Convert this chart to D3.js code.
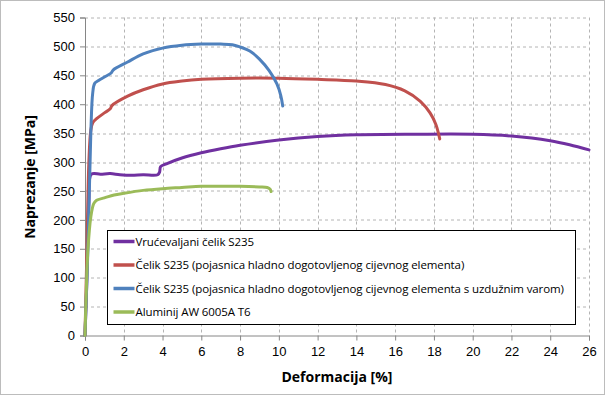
<!DOCTYPE html>
<html>
<head>
<meta charset="utf-8">
<script src="https://cdn.jsdelivr.net/npm/d3@7"></script>
<style>
  body { margin: 0; background: #fff; }
  svg { font-family: "Open Sans", "Liberation Sans", sans-serif; }
  .grid line { stroke: #b4b4b4; stroke-dasharray: 3,3; }
  .axis path, .axis line { stroke: #868686; }
  .axis text { font-size: 13px; fill: #000; }
</style>
</head>
<body>
<div id="chart"></div>
<script>
// podaci (deformacija [%], naprezanje [MPa])
const seriesNames = [
  "Vrućevaljani čelik S235",
  "Čelik S235 (pojasnica hladno dogotovljenog cijevnog elementa)",
  "Čelik S235 (pojasnica hladno dogotovljenog cijevnog elementa s uzdužnim varom)",
  "Aluminij AW 6005A T6"
];
const seriesColors = ["#7030A0", "#C0504D", "#4F81BD", "#9BBB59"];

const purpleX = [0, 0.1, 0.2, 0.33, 0.8, 1.3, 1.8, 2.4, 3.0, 3.75, 3.85, 3.9, 4.2, 5.0, 6, 7, 8, 10, 12, 14, 17, 20, 22, 24, 25, 26];
const purpleY = [0, 100, 230, 279, 279, 280, 278, 277, 278, 278, 283, 292, 297, 307, 316, 323, 329, 338, 344, 347, 348, 348, 345, 337, 330, 321];

const redX = [0, 0.1, 0.2, 0.3, 0.4, 0.6, 1.0, 1.3, 1.4, 2.2, 3, 4, 5, 6, 8, 10, 12, 14, 15.5, 16.5, 17.3, 17.8, 18.1, 18.3];
const redY = [0, 150, 300, 355, 368, 375, 385, 392, 398, 414, 425, 435, 440, 443, 445, 445, 443, 440, 434, 423, 405, 385, 365, 340];

const blueX = [0, 0.15, 0.3, 0.4, 0.5, 0.7, 1.0, 1.35, 1.45, 2.2, 3, 4, 5, 6, 7, 7.6, 8.0, 8.5, 9.0, 9.5, 9.9, 10.1, 10.2];
const blueY = [0, 150, 350, 420, 436, 441, 447, 454, 459, 473, 487, 497, 502, 504, 504, 503, 499, 492, 478, 458, 435, 415, 397];

const greenX = [0, 0.05, 0.15, 0.3, 0.45, 0.6, 1.0, 1.5, 2, 3, 4, 5, 6, 7, 8, 9, 9.4, 9.55, 9.6];
const greenY = [0, 60, 148, 205, 228, 234, 238, 243, 246, 251, 254, 256, 258, 258, 258, 257, 256, 253, 249];

const xTicks = d3.range(0, 27, 2);
const yTicks = d3.range(0, 551, 50);

const allX = [purpleX, redX, blueX, greenX];
const allY = [purpleY, redY, blueY, greenY];

const W = 605, H = 395;
const margin = { top: 17.5, right: 16, bottom: 59.5, left: 85 },
  width = W - margin.left - margin.right,
  height = H - margin.top - margin.bottom;

const root = d3.select("#chart").append("svg").attr("width", W).attr("height", H);

// okvir grafikona
root.append("rect")
  .attr("x", 0.5).attr("y", 0.5)
  .attr("width", W - 1).attr("height", H - 1)
  .attr("fill", "#fff").attr("stroke", "#bcbcbc");

const svg = root.append("g").attr("transform", `translate(${margin.left},${margin.top})`);

const x = d3.scaleLinear().domain([0, 26]).range([0, width]);
const y = d3.scaleLinear().domain([0, 550]).range([height, 0]);

// mreža
const grid = svg.append("g").attr("class", "grid");
grid.selectAll(".gx").data(xTicks.slice(1)).enter().append("line")
  .attr("x1", d => Math.round(x(d)) + 0.5).attr("x2", d => Math.round(x(d)) + 0.5)
  .attr("y1", 0).attr("y2", height);
grid.selectAll(".gy").data(yTicks.slice(1)).enter().append("line")
  .attr("y1", d => Math.round(y(d)) + 0.5).attr("y2", d => Math.round(y(d)) + 0.5)
  .attr("x1", 0).attr("x2", width);

// osi
svg.append("g").attr("class", "axis")
  .attr("transform", `translate(0,${height})`)
  .call(d3.axisBottom(x).tickValues(xTicks).tickSizeOuter(0).tickSize(5).tickPadding(6));
svg.append("g").attr("class", "axis")
  .call(d3.axisLeft(y).tickValues(yTicks).tickSizeOuter(0).tickSize(5).tickPadding(5));

// krivulje
const line = d3.line()
  .x(d => x(d[0]))
  .y(d => y(d[1]))
  .curve(d3.curveCatmullRom.alpha(0.5));

allX.forEach((xs, i) => {
  const pts = xs.map((v, j) => [v, allY[i][j]]);
  svg.append("path")
    .datum(pts)
    .attr("fill", "none")
    .attr("stroke", seriesColors[i])
    .attr("stroke-width", 3)
    .attr("stroke-linejoin", "round")
    .attr("stroke-linecap", "round")
    .attr("d", line);
});

// legenda
const lg = root.append("g").attr("transform", "translate(107.5,230.5)");
lg.append("rect").attr("width", 468).attr("height", 94)
  .attr("fill", "#fff").attr("stroke", "#000");
seriesNames.forEach((name, i) => {
  const g = lg.append("g").attr("transform", `translate(0,${11 + i * 23.5})`);
  g.append("line").attr("x1", 6).attr("x2", 27).attr("y1", 0).attr("y2", 0)
    .attr("stroke", seriesColors[i]).attr("stroke-width", 3.5);
  g.append("text").attr("x", 28).attr("y", 0).attr("dy", "0.35em")
    .attr("font-size", 11.5).attr("letter-spacing", -0.1).text(name);
});

// naslovi osi
root.append("text")
  .attr("x", 337).attr("y", 382)
  .attr("text-anchor", "middle")
  .attr("font-size", 14).attr("font-weight", "bold")
  .text("Deformacija [%]");
root.append("text")
  .attr("transform", "translate(35,177) rotate(-90)")
  .attr("text-anchor", "middle")
  .attr("font-size", 14).attr("font-weight", "bold")
  .text("Naprezanje [MPa]");
</script>
</body>
</html>
